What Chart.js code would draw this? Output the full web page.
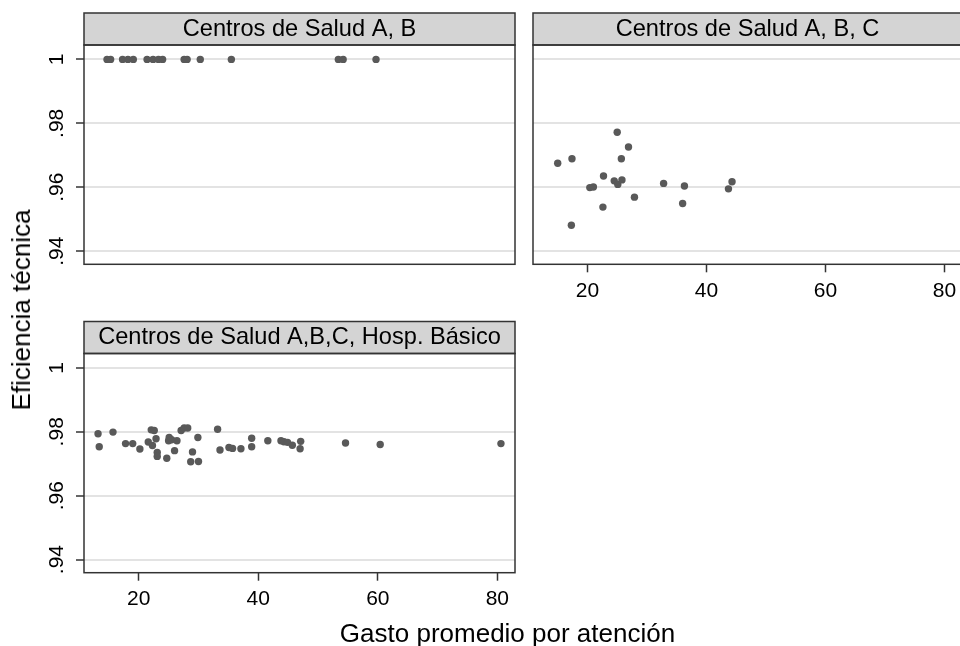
<!DOCTYPE html>
<html>
<head>
<meta charset="utf-8">
<title>Eficiencia técnica vs gasto promedio</title>
<script src="https://cdn.jsdelivr.net/npm/chart.js@4.4.0/dist/chart.umd.min.js"></script>
<style>
    html, body { margin: 0; padding: 0; background: #fff; overflow: hidden; width: 960px; height: 646px; }
    canvas { position: absolute; }
    .axtitle {
        position: absolute;
        font-family: 'Liberation Sans', Arial, sans-serif;
        font-size: 26px;
        line-height: 26px;
        color: #000;
        white-space: nowrap;
        transform: translate(-50%, -50%);
    }
</style>
</head>
<body>
<canvas id="panelAB" width="530" height="270" style="left:0;top:0;width:530px;height:270px"></canvas>
<canvas id="panelABC" width="450" height="310" style="left:520px;top:0;width:450px;height:310px"></canvas>
<canvas id="panelHosp" width="530" height="346" style="left:0;top:300px;width:530px;height:346px"></canvas>
<div class="axtitle" style="left:21px;top:310px;transform:translate(-50%,-50%) rotate(-90deg)">Eficiencia técnica</div>
<div class="axtitle" style="left:507.5px;top:632.7px">Gasto promedio por atención</div>

<script>
// ------------------------------------------------------------
// Data
// ------------------------------------------------------------
const panelTitles = ['Centros de Salud A, B', 'Centros de Salud A, B, C', 'Centros de Salud A,B,C, Hosp. Básico']

const xTicks = [20, 40, 60, 80]
const yTicks = [0.94, 0.96, 0.98, 1]
const yTickLabels = ['.94', '.96', '.98', '1']

// Centros de Salud A, B
const gastoAB = [14.7, 15.3, 17.3, 18.2, 19.1, 21.4, 22.4, 23.3, 24.0, 27.6, 28.1, 30.3, 35.5, 53.4, 54.2, 59.7]
const eficAB = [1, 1, 1, 1, 1, 1, 1, 1, 1, 1, 1, 1, 1, 1, 1, 1]

// Centros de Salud A, B, C
const gastoABC = [15.0, 17.4, 25.0, 26.9, 25.7, 22.7, 24.5, 25.1, 25.8, 20.4, 21.0, 27.9, 22.6, 17.3, 32.8, 36.3, 36.0, 43.7, 44.3]
const eficABC = [0.9675, 0.9689, 0.9772, 0.9726, 0.9689, 0.9635, 0.9620, 0.9609, 0.9623, 0.9599, 0.9601, 0.9569, 0.9538, 0.9481, 0.9612, 0.9604, 0.9549, 0.9595, 0.9617]

// Centros de Salud A,B,C, Hosp. Básico
const gastoHosp = [13.2, 13.4, 15.7, 17.8, 19.0, 20.2, 21.6, 22.1, 22.6, 22.9, 22.3, 23.1, 23.1, 24.7, 25.1,
    25.0, 25.5, 26.4, 26.0, 27.1, 27.6, 28.2, 29.0, 28.7, 29.9, 30.0, 33.2, 33.6, 35.1, 35.7,
    37.1, 38.9, 38.9, 41.6, 43.8, 44.3, 44.9, 45.7, 47.1, 47.0, 54.6, 60.4, 80.6]
const eficHosp = [0.9794, 0.9753, 0.9799, 0.9763, 0.9763, 0.9746, 0.9768, 0.9806, 0.9804, 0.9778, 0.9757, 0.9735, 0.9723, 0.9717, 0.9782,
    0.9772, 0.9775, 0.9772, 0.9741, 0.9804, 0.9812, 0.9812, 0.9737, 0.9706, 0.9782, 0.9707, 0.9808, 0.9743, 0.9751, 0.9748,
    0.9747, 0.9780, 0.9753, 0.9772, 0.9772, 0.9769, 0.9767, 0.9758, 0.9770, 0.9747, 0.9765, 0.9760, 0.9763]

// axis ranges shared by all panels
const xMin = 10.85, xMax = 82.95
const yMin = 0.9359, yMax = 1.0045

// ------------------------------------------------------------
// Styling
// ------------------------------------------------------------
Chart.defaults.font.family = "'Liberation Sans', Arial, sans-serif"
Chart.defaults.color = '#000'

const STRIP_H = 32
const DARK = '#333333'

// grey title strip above each plot + box round the plot region
const stripPlugin = {
    id: 'strip',
    beforeDraw(chart) {
        const a = chart.chartArea
        const ctx = chart.ctx
        ctx.save()
        ctx.fillStyle = '#d4d4d4'
        ctx.fillRect(a.left, a.top - STRIP_H, a.right - a.left, STRIP_H)
        ctx.strokeStyle = DARK
        ctx.lineWidth = 1.5
        ctx.strokeRect(a.left, a.top - STRIP_H, a.right - a.left, STRIP_H)
        ctx.restore()
    },
    afterDraw(chart) {
        const a = chart.chartArea
        const ctx = chart.ctx
        ctx.save()
        ctx.strokeStyle = DARK
        ctx.lineWidth = 1.5
        ctx.strokeRect(a.left, a.top, a.right - a.left, a.bottom - a.top)
        ctx.restore()
    }
}

function makePanel(id, title, xs, ys, p) {
    const points = xs.map((x, i) => ({ x: x, y: ys[i] }))

    const config = {
        type: 'scatter',
        data: {
            datasets: [{
                data: points,
                pointRadius: 3.7,
                pointHoverRadius: 3.7,
                pointBackgroundColor: '#595959',
                pointBorderWidth: 0,
                showLine: false
            }]
        },
        options: {
            responsive: false,
            animation: false,
            devicePixelRatio: 1,
            layout: { padding: p.padding },
            plugins: {
                legend: { display: false },
                tooltip: { enabled: false },
                title: {
                    display: true,
                    text: title,
                    fullSize: false,
                    color: '#000',
                    font: { size: 23.6, weight: 'normal', lineHeight: STRIP_H / 23.6 },
                    padding: 0
                }
            },
            scales: {
                x: {
                    type: 'linear',
                    display: p.showX,
                    min: xMin,
                    max: xMax,
                    afterBuildTicks: (s) => { s.ticks = xTicks.map(v => ({ value: v })) },
                    afterFit: (s) => { s.height = p.xHeight },
                    ticks: { font: { size: 21 }, color: '#000', padding: 6, maxRotation: 0 },
                    grid: { drawOnChartArea: false, tickLength: 8, tickColor: DARK, tickWidth: 1.5 },
                    border: { display: false }
                },
                y: {
                    type: 'linear',
                    min: yMin,
                    max: yMax,
                    afterBuildTicks: (s) => { s.ticks = yTicks.map(v => ({ value: v })) },
                    afterFit: (s) => {
                        s.width = p.yWidth
                        // rotated labels must not shrink the plot region
                        s.paddingTop = 0
                        s.paddingBottom = 0
                    },
                    ticks: {
                        display: p.showY,
                        minRotation: 90,
                        maxRotation: 90,
                        crossAlign: 'center',
                        padding: 4,
                        font: { size: 21 },
                        color: '#000',
                        callback: (v) => yTickLabels[yTicks.indexOf(v)]
                    },
                    grid: { color: '#e3e3e3', lineWidth: 2, drawTicks: p.showY, tickLength: 8, tickColor: DARK, tickWidth: 1.5 },
                    border: { display: false }
                }
            }
        },
        plugins: [stripPlugin]
    }

    return new Chart(document.getElementById(id), config)
}

// top left
makePanel('panelAB', panelTitles[0], gastoAB, eficAB, {
    padding: { left: 0, top: 13, right: 15, bottom: 5.7 },
    showX: false, showY: true, yWidth: 84, xHeight: 0
})

// top right
makePanel('panelABC', panelTitles[1], gastoABC, eficABC, {
    padding: { left: 0, top: 13, right: 8, bottom: 0 },
    showX: true, showY: false, yWidth: 13, xHeight: 45.7
})

// bottom left
makePanel('panelHosp', panelTitles[2], gastoHosp, eficHosp, {
    padding: { left: 0, top: 21.5, right: 15, bottom: 0 },
    showX: true, showY: true, yWidth: 84, xHeight: 73.3
})
</script>
</body>
</html>
